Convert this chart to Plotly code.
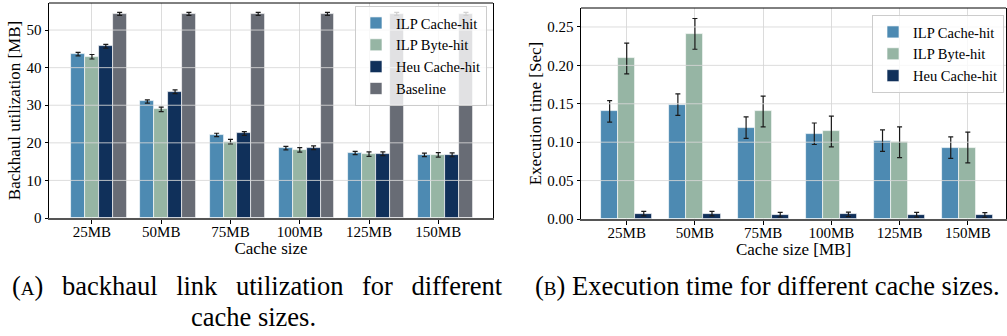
import numpy as np
import plotly.graph_objects as go

# ---------------- data ----------------
categories = ["25MB", "50MB", "75MB", "100MB", "125MB", "150MB"]

bw_ilp_cache = [43.6, 31.0, 22.1, 18.6, 17.3, 16.8]
bw_ilp_byte = [42.9, 28.9, 20.3, 18.1, 17.0, 16.8]
bw_heu_cache = [45.7, 33.6, 22.5, 18.7, 17.1, 16.8]
bw_baseline = [54.3, 54.3, 54.3, 54.3, 54.3, 54.3]
bw_ilp_cache_err = [0.45, 0.45, 0.45, 0.45, 0.45, 0.45]
bw_ilp_byte_err = [0.6, 0.6, 0.6, 0.6, 0.6, 0.6]
bw_heu_cache_err = [0.5, 0.5, 0.5, 0.5, 0.5, 0.5]
bw_baseline_err = [0.4, 0.4, 0.4, 0.4, 0.4, 0.4]

t_ilp_cache = [0.140, 0.149, 0.119, 0.111, 0.102, 0.093]
t_ilp_byte = [0.209, 0.241, 0.140, 0.114, 0.100, 0.093]
t_heu_cache = [0.007, 0.007, 0.0056, 0.006, 0.0055, 0.0052]
t_ilp_cache_err = [0.014, 0.014, 0.014, 0.014, 0.014, 0.014]
t_ilp_byte_err = [0.02, 0.02, 0.02, 0.02, 0.02, 0.02]
t_heu_cache_err = [0.003, 0.003, 0.003, 0.003, 0.003, 0.003]

bw_yticks = [0, 10, 20, 30, 40, 50]
t_yticks = [0.00, 0.05, 0.10, 0.15, 0.20, 0.25]

# ---------------- style ----------------
FONT = "Liberation Serif"
C_ILP_CACHE = "#4d8ab2"
C_ILP_BYTE = "#96b5a4"
C_HEU = "#10305a"
C_BASE = "#686c75"
GRID = "rgba(215,215,215,0.85)"

idx = np.arange(len(categories))

fig = go.Figure()

def add_bars(x, y, err, name, color, xa, ya, legend, width):
    fig.add_trace(go.Bar(
        x=x, y=y, width=width, name=name, xaxis=xa, yaxis=ya, legend=legend,
        marker=dict(color=color, line=dict(color="rgba(255,255,255,0.8)", width=0.8)),
        error_y=dict(type="data", array=err, visible=True, color="#1a1a1a",
                     thickness=1.2, width=2.5),
    ))

# left panel: 4 bars, width 0.2, tick on second bar
w1 = 0.2
left_series = [
    (bw_ilp_cache, bw_ilp_cache_err, "ILP Cache-hit", C_ILP_CACHE),
    (bw_ilp_byte, bw_ilp_byte_err, "ILP Byte-hit", C_ILP_BYTE),
    (bw_heu_cache, bw_heu_cache_err, "Heu Cache-hit", C_HEU),
    (bw_baseline, bw_baseline_err, "Baseline", C_BASE),
]
for k, (y, e, n, c) in enumerate(left_series):
    add_bars(idx + (k - 1) * w1, y, e, n, c, "x", "y", "legend", w1)

# right panel: 3 bars, width 0.25, tick on middle bar
w2 = 0.25
right_series = [
    (t_ilp_cache, t_ilp_cache_err, "ILP Cache-hit", C_ILP_CACHE),
    (t_ilp_byte, t_ilp_byte_err, "ILP Byte-hit", C_ILP_BYTE),
    (t_heu_cache, t_heu_cache_err, "Heu Cache-hit", C_HEU),
]
for k, (y, e, n, c) in enumerate(right_series):
    add_bars(idx + (k - 1) * w2, y, e, n, c, "x2", "y2", "legend2", w2)

W, H = 1007, 336
def px_x(a, b):
    return [a / W, b / W]
def px_y(top, bottom):
    return [1 - bottom / H, 1 - top / H]

axis_common = dict(
    zeroline=False, ticks="outside", ticklen=3.5, tickwidth=1, automargin=False,
    tickcolor="black", tickfont=dict(family=FONT, size=15, color="black"),
    showline=True, linecolor="black", linewidth=1,
)
xgrid = dict(showgrid=True, gridcolor="#dcdcdc", gridwidth=1, ticklabelstandoff=-5)

fig.update_layout(
    width=W, height=H, margin=dict(l=0, r=0, t=0, b=0, autoexpand=False),
    paper_bgcolor="white", plot_bgcolor="white",
    barmode="overlay", bargap=0,
    font=dict(family=FONT, color="black"),
    xaxis=dict(axis_common, **xgrid, domain=px_x(49, 493), range=[-0.62, 5.79],
               tickvals=idx, ticktext=categories, anchor="y",
               linecolor="#555555", linewidth=2,
               title=dict(text="Cache size", font=dict(family=FONT, size=17), standoff=1)),
    yaxis=dict(axis_common, showgrid=False, domain=px_y(3, 218), range=[0, 57.2],
               tickvals=bw_yticks, anchor="x", mirror=True,
               title=dict(text="Backhaul utilization [MB]", font=dict(family=FONT, size=17), standoff=1)),
    xaxis2=dict(axis_common, **xgrid, domain=px_x(581, 1006), range=[-0.67, 5.56],
                tickvals=idx, ticktext=categories, anchor="y2",
                linecolor="#555555", linewidth=2,
                title=dict(text="Cache size [MB]", font=dict(family=FONT, size=17), standoff=1)),
    yaxis2=dict(axis_common, showgrid=False, domain=px_y(8, 219), range=[0, 0.2747],
                tickvals=t_yticks, tickformat=".2f", anchor="x2", mirror=True,
                title=dict(text="Execution time [Sec]", font=dict(family=FONT, size=17), standoff=1)),
    legend=dict(x=487 / W, y=1 - 6 / H, xanchor="right", yanchor="top",
                bgcolor="rgba(255,255,255,0.8)", bordercolor="#cccccc", borderwidth=1,
                font=dict(family=FONT, size=14.5), tracegroupgap=0, itemwidth=30),
    legend2=dict(x=1004 / W, y=1 - 15 / H, xanchor="right", yanchor="top",
                 bgcolor="rgba(255,255,255,0.8)", bordercolor="#cccccc", borderwidth=1,
                 font=dict(family=FONT, size=14.5), tracegroupgap=0, itemwidth=30),
)

# horizontal gridlines drawn above the bars (matplotlib default), plus top border
shapes = []
for (xa, ya, yt) in [("x", "y", bw_yticks), ("x2", "y2", t_yticks)]:
    for v in yt[1:]:
        shapes.append(dict(type="line", xref=f"{xa} domain", yref=ya, x0=0, x1=1, y0=v, y1=v,
                           line=dict(color=GRID, width=1), layer="above"))
    shapes.append(dict(type="line", xref=f"{xa} domain", yref=f"{ya} domain", x0=0, x1=1, y0=1, y1=1,
                       line=dict(color="black", width=1), layer="above"))
fig.update_layout(shapes=shapes)

# captions
cap_font = dict(family=FONT, size=26.5, color="black")
gap = "\u00a0\u00a0\u2009"
cap_a1 = gap.join(["(<span style='font-size:19px'>A</span>)", "backhaul", "link",
                   "utilization", "for", "different"])
fig.add_annotation(text=cap_a1, xref="paper", yref="paper", x=10 / W, y=1 - 286 / H,
                   xanchor="left", yanchor="middle", showarrow=False, font=cap_font)
fig.add_annotation(text="cache sizes.", xref="paper", yref="paper", x=253 / W, y=1 - 317 / H,
                   xanchor="center", yanchor="middle", showarrow=False, font=cap_font)
fig.add_annotation(text="(<span style='font-size:19px'>B</span>) Execution time for different cache sizes.",
                   xref="paper", yref="paper", x=533 / W, y=1 - 286 / H,
                   xanchor="left", yanchor="middle", showarrow=False, font=cap_font)

fig.write_html("out.html", config={"displayModeBar": False},
               post_script="document.body.style.margin='0';document.body.style.overflow='hidden';")
